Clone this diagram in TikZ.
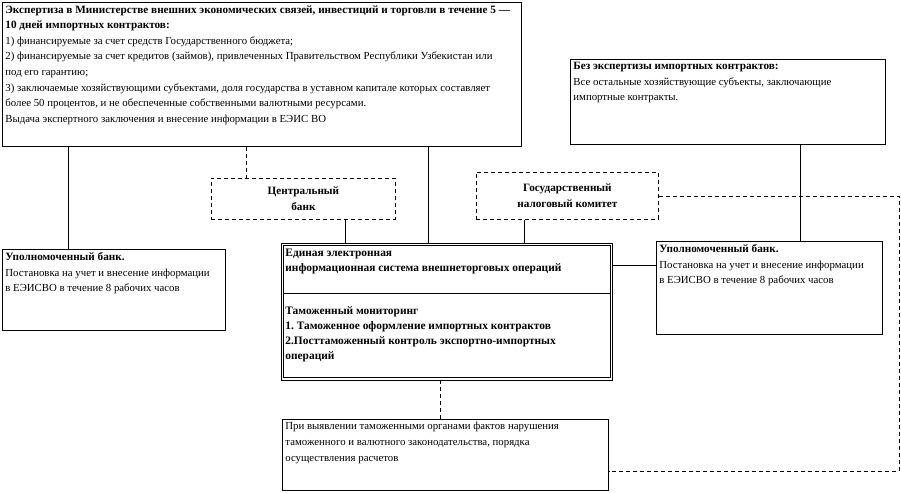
\documentclass[tikz,border=0pt]{standalone}
\usepackage{fontspec}
\setmainfont{Liberation Serif}
\frenchspacing
\usetikzlibrary{positioning,calc}
\newcommand{\BoxFont}{\fontsize{10.8pt}{15.6pt}\selectfont}
\newcommand{\HeadFont}{\fontsize{11.2pt}{15.6pt}\selectfont\bfseries}
\newcommand{\Head}[1]{{\HeadFont #1}}
\newcommand{\BoxText}[3]{\parbox[c][#2][t]{#1}{\raggedright #3}}
\tikzset{
  plain box/.style={draw=black, line width=0.8pt, inner sep=3pt,
    anchor=north west, font=\BoxFont},
  dash box/.style={draw=black, dashed, dash pattern=on 4pt off 3pt,
    line width=0.8pt, inner sep=0pt, anchor=north west, align=center,
    font=\HeadFont},
  ees box/.style={draw=black, line width=0.8pt, inner sep=4pt,
    anchor=north west, font=\HeadFont},
  link/.style={line width=0.8pt, draw=black},
  dash link/.style={link, dash pattern=on 4pt off 3pt}
}
\begin{document}
\begin{tikzpicture}[x=1pt,y=-1pt]
  \useasboundingbox (0,0) rectangle (901,492);
  % upper boxes
  \node[plain box] (expertise) at (2,2) {\BoxText{513pt}{138pt}{%
    \Head{Экспертиза в Министерстве внешних экономических связей, инвестиций и торговли в течение 5 —}\\
    \Head{10 дней импортных контрактов:}\\
    1) финансируемые за счет средств Государственного бюджета;\\
    2) финансируемые за счет кредитов (займов), привлеченных Правительством Республики Узбекистан или\\
    под его гарантию;\\
    3) заключаемые хозяйствующими субъектами, доля государства в уставном капитале которых составляет\\
    более 50 процентов, и не обеспеченные собственными валютными ресурсами.\\
    Выдача экспертного заключения и внесение информации в ЕЭИС ВО}};
  \node[plain box] (noexpertise) at (570,59) {\BoxText{309pt}{79pt}{%
    \Head{Без экспертизы импортных контрактов:}\\
    Все остальные хозяйствующие субъекты, заключающие\\
    импортные контракты.}};
  % dashed bodies
  \node[dash box, minimum width=184pt, minimum height=41pt] (cbank) at (211,178)
    {Центральный\\банк};
  \node[dash box, minimum width=182pt, minimum height=47pt] (taxcom) at (476,172)
    {Государственный\\налоговый комитет};
  % banks
  \node[plain box] (leftbank) at (2,249) {\BoxText{217pt}{75pt}{%
    \Head{Уполномоченный банк.}\\
    Постановка на учет и внесение информации\\
    в ЕЭИСВО в течение 8 рабочих часов}};
  \node[plain box] (rightbank) at (656,241) {\BoxText{220pt}{87pt}{%
    \Head{Уполномоченный банк.}\\
    Постановка на учет и внесение информации\\
    в ЕЭИСВО в течение 8 рабочих часов}};
  % EEIS VO, double frame
  \node[ees box] (eeis) at (281,242.5) {\BoxText{323pt}{129pt}{%
    \fontsize{11.4pt}{15pt}\selectfont\bfseries
    \vspace*{2.5pt}
    Единая электронная\\
    информационная система внешнеторговых операций\\[28pt]
    Таможенный мониторинг\\
    1. Таможенное оформление импортных контрактов\\
    2.Посттаможенный контроль экспортно-импортных\\
    операций}};
  \draw[link] ([shift={(2.6pt,-2.6pt)}]eeis.north west) rectangle ([shift={(-2.6pt,2.6pt)}]eeis.south east);
  \coordinate (ydivide) at (0,293);
  \draw[link] ([xshift=2.6pt]eeis.west |- ydivide) -- ([xshift=-2.6pt]eeis.east |- ydivide);
  \node[plain box] (violation) at (282,419) {\BoxText{320pt}{65pt}{%
    При выявлении таможенными органами фактов нарушения\\
    таможенного и валютного законодательства, порядка\\
    осуществления расчетов}};
  % connectors
  \coordinate (xleftbank) at (68,0);
  \coordinate (xcbankup) at (246,0);
  \coordinate (xcbankdown) at (345,0);
  \coordinate (xeeis) at (428,0);
  \coordinate (xviolation) at (440,0);
  \coordinate (xtax) at (524,0);
  \coordinate (xrightbank) at (800,0);
  \coordinate (yrow) at (0,265);
  \coordinate (turn) at (899,471);
  \draw[link] (expertise.south -| xleftbank) -- (leftbank.north -| xleftbank);
  \draw[link] (expertise.south -| xeeis) -- (eeis.north -| xeeis);
  \draw[dash link] (expertise.south -| xcbankup) -- (cbank.north -| xcbankup);
  \draw[link] (cbank.south -| xcbankdown) -- (eeis.north -| xcbankdown);
  \draw[link] (taxcom.south -| xtax) -- (eeis.north -| xtax);
  \draw[link] (noexpertise.south -| xrightbank) -- (rightbank.north -| xrightbank);
  \draw[link] (eeis.east |- yrow) -- (rightbank.west |- yrow);
  \draw[dash link] (eeis.south -| xviolation) -- (violation.north -| xviolation);
  \draw[dash link] (taxcom.east) -| (turn) -- (turn -| violation.east);
\end{tikzpicture}
\end{document}
